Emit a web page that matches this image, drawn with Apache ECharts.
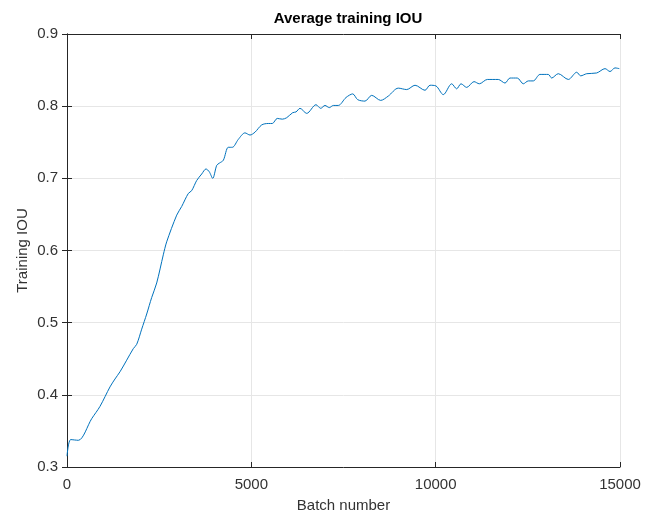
<!DOCTYPE html>
<html>
<head>
<meta charset="utf-8">
<script src="https://cdn.jsdelivr.net/npm/echarts@6/dist/echarts.min.js"></script>
<style>
  html, body { margin: 0; padding: 0; background: #fff; }
  #main { width: 645px; height: 518px; }
</style>
</head>
<body>
<div id="main"></div>
<script>
// batch numbers
var batches = [0, 100, 307, 670, 895, 1166, 1302, 1438, 1619, 1798, 1891, 2026, 2162, 2298, 2433,
  2612, 2704, 2976, 3111, 3290, 3383, 3518, 3654, 3770, 3860, 3952, 4061, 4131, 4240, 4375,
  4484, 4647, 4828, 4964, 5100, 5281, 5460, 5569, 5704, 5840, 5959, 6122, 6212, 6320, 6502,
  6754, 6882, 6998, 7115, 7223, 7359, 7568, 7750, 7885, 8083, 8265, 8509, 8715, 8986, 9214,
  9440, 9711, 9846, 10009, 10207, 10435, 10570, 10687, 10842, 11040, 11184, 11401, 11699, 11881,
  12016, 12214, 12377, 12513, 12648, 12830, 13055, 13147, 13326, 13598, 13826, 13934, 14097,
  14368, 14594, 14729, 14864, 14981];

// average training IOU at each batch
var iou = [0.315, 0.338, 0.337, 0.367, 0.384, 0.411, 0.422, 0.432, 0.448, 0.464, 0.470, 0.491,
  0.512, 0.535, 0.555, 0.594, 0.612, 0.649, 0.661, 0.679, 0.683, 0.697, 0.706, 0.713, 0.709,
  0.700, 0.718, 0.721, 0.725, 0.743, 0.743, 0.754, 0.763, 0.760, 0.764, 0.774, 0.776, 0.776,
  0.783, 0.782, 0.784, 0.791, 0.792, 0.797, 0.790, 0.802, 0.797, 0.801, 0.798, 0.801, 0.801,
  0.812, 0.817, 0.809, 0.807, 0.815, 0.808, 0.814, 0.825, 0.823, 0.829, 0.822, 0.829, 0.828,
  0.816, 0.831, 0.824, 0.831, 0.826, 0.834, 0.831, 0.837, 0.837, 0.832, 0.839, 0.839, 0.831,
  0.835, 0.835, 0.844, 0.844, 0.839, 0.845, 0.837, 0.847, 0.842, 0.845, 0.846, 0.852, 0.848,
  0.853, 0.852];

var points = batches.map(function (b, i) { return [b, iou[i]]; });

var myChart = echarts.init(document.getElementById('main'));

var textCol = '#333333';
var axisCol = '#262626';
var font = 'Liberation Sans, Arial, Helvetica, sans-serif';

var option = {
    backgroundColor: '#ffffff',
    animation: false,
    title: {
        text: 'Average training IOU',
        left: 343,
        textAlign: 'center',
        top: 6,
        textStyle: { fontFamily: font, fontSize: 15, fontWeight: 'bold', color: '#000' }
    },
    grid: { left: 67, right: 25, top: 34, bottom: 47 },
    xAxis: [{
        type: 'value',
        min: 0, max: 15000, interval: 5000,
        name: 'Batch number',
        nameLocation: 'middle',
        nameGap: 31,
        nameTextStyle: { fontFamily: font, fontSize: 15, color: textCol },
        axisLine: { show: true, lineStyle: { color: axisCol, width: 1 } },
        axisTick: { show: true, inside: true, length: 5, lineStyle: { color: axisCol } },
        axisLabel: {
            fontFamily: font, fontSize: 15, color: textCol, margin: 10,
            formatter: function (v) { return String(v); }
        },
        splitLine: { show: true, lineStyle: { color: '#e6e6e6', width: 1 } }
    }, {
        type: 'value',
        position: 'top',
        min: 0, max: 15000, interval: 5000,
        axisLine: { show: true, lineStyle: { color: axisCol, width: 1 } },
        axisTick: { show: true, inside: true, length: 5, lineStyle: { color: axisCol } },
        axisLabel: { show: false },
        splitLine: { show: false }
    }],
    yAxis: [{
        type: 'value',
        min: 0.3, max: 0.9, interval: 0.1,
        name: 'Training IOU',
        nameLocation: 'middle',
        nameGap: 37,
        nameMoveOverlap: false,
        nameTextStyle: { fontFamily: font, fontSize: 15, color: textCol },
        axisLine: { show: true, lineStyle: { color: axisCol, width: 1 } },
        axisTick: { show: true, inside: true, length: 5, lineStyle: { color: axisCol } },
        axisLabel: {
            fontFamily: font, fontSize: 15, color: textCol, margin: 9,
            formatter: function (v) { return v.toFixed(1); }
        },
        splitLine: { show: true, lineStyle: { color: '#e6e6e6', width: 1 } }
    }, {
        type: 'value',
        position: 'right',
        min: 0.3, max: 0.9, interval: 0.1,
        axisLine: { show: true, lineStyle: { color: axisCol, width: 1 } },
        axisTick: { show: true, inside: true, length: 5, lineStyle: { color: axisCol } },
        axisLabel: { show: false },
        splitLine: { show: false }
    }],
    series: [{
        type: 'line',
        data: points,
        showSymbol: false,
        smooth: 0.3,
        lineStyle: { color: '#0072BD', width: 1 },
        itemStyle: { color: '#0072BD' }
    }]
};

option && myChart.setOption(option);
</script>
</body>
</html>
